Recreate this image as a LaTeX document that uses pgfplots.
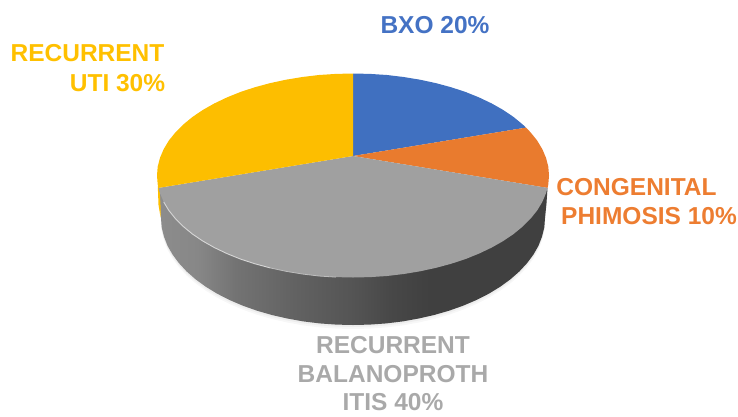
\documentclass[border=0pt]{standalone}
\usepackage{fontspec}
\setmainfont{Liberation Sans}
\usepackage{pgfplots}
\usepackage{pgfplotstable}
\pgfplotsset{compat=1.18}
\definecolor{cblue}{HTML}{4070C0}
\definecolor{corange}{HTML}{E97B2E}
\definecolor{cgray}{HTML}{A0A0A0}
\definecolor{cyellow}{HTML}{FDBE00}
\definecolor{tblue}{HTML}{4472C4}
\definecolor{torange}{HTML}{ED7D31}
\definecolor{tgray}{HTML}{A9A9A9}
\definecolor{tyellow}{HTML}{FFC000}
\pgfdeclarehorizontalshading{wallshade}{100bp}{
  color(0bp)=(black!45);
  color(25bp)=(black!45);
  color(30bp)=(black!47);
  color(35bp)=(black!55);
  color(43bp)=(black!62);
  color(50bp)=(black!67);
  color(55bp)=(black!72);
  color(60bp)=(black!75);
  color(75bp)=(black!75);
  color(100bp)=(black!75)}
\pgfplotstableread{
x y
353 156
353 73.5
370.1 73.9
387 75
403.7 77
420 79.7
435.8 83.1
451 87.2
465.4 91.9
479 97.4
491.6 103.4
503.1 109.9
513.6 117
522.7 124.5
526 127.6
}\tblueslice
\pgfplotstableread{
x y
353 156
526 127.6
530.6 132.4
537.2 140.6
542.3 149.1
546 157.8
548.3 166.6
549 175.5
548.3 184.4
547.5 187.9
}\torangeslice
\pgfplotstableread{
x y
353 156
547.5 187.9
546 193.2
542.3 201.9
537.2 210.4
530.6 218.6
522.7 226.5
513.6 234
503.1 241.1
491.6 247.6
479 253.6
465.4 259.1
451 263.8
435.8 267.9
420 271.3
403.7 274
387 276
370.1 277.1
353 277.5
335.9 277.1
319 276
302.3 274
286 271.3
270.2 267.9
255 263.8
240.6 259.1
227 253.6
214.4 247.6
202.9 241.1
192.4 234
183.3 226.5
175.4 218.6
168.8 210.4
163.7 201.9
160 193.2
158.5 187.9
}\tgrayslice
\pgfplotstableread{
x y
353 156
158.5 187.9
157.7 184.4
157 175.5
157.7 166.6
160 157.8
163.7 149.1
168.8 140.6
175.4 132.4
183.3 124.5
192.4 117
202.9 109.9
214.4 103.4
227 97.4
240.6 91.9
255 87.2
270.2 83.1
286 79.7
302.3 77
319 75
335.9 73.9
353 73.5
}\tyellowslice
\pgfplotstableread{
x y
158.5 187.9
159.5 203
161 218
161.7 227.3
164 236.6
167.5 245.7
172.6 254.6
179 263.2
186.7 271.5
195.7 279.4
205.9 286.8
217.2 293.7
229.6 300
242.9 305.7
257 310.7
271.9 315
287.3 318.5
303.3 321.4
319.7 323.4
336.3 324.6
353 325
369.7 324.6
386.3 323.4
402.7 321.4
418.7 318.5
434.1 315
449 310.7
463.1 305.7
476.4 300
488.8 293.7
500.1 286.8
510.3 279.4
519.3 271.5
527 263.2
533.4 254.6
538.5 245.7
542 236.6
544.3 227.3
545 218
546.5 203
547.5 187.9
}\twall
\pgfplotstableread{
x y
163.7 201.9
168.8 210.4
175.4 218.6
183.3 226.5
192.4 234
202.9 241.1
214.4 247.6
227 253.6
240.6 259.1
255 263.8
270.2 267.9
}\trim
\pgfplotstableread{
x y
270.2 267.9
286 271.3
302.3 274
319 276
335.9 277.1
}\trimb
\pgfplotstableread{
x y
157.8 186
158.5 205
160.5 217
160.5 205
159.5 188
}\tsliver
\begin{document}
\begin{tikzpicture}
\begin{axis}[
  scale only axis, width=738pt, height=416pt,
  xmin=0, xmax=738, ymin=0, ymax=416, y dir=reverse,
  hide axis, clip=false,
  every axis plot/.append style={forget plot}
]
\addplot[fill=black!3, draw=none] table[x=x, y expr=\thisrow{y}+4] {\twall} -- cycle;
\addplot[fill=black!7, draw=none] table[x=x, y expr=\thisrow{y}+2] {\twall} -- cycle;
\addplot[shading=wallshade, draw=none] table[x=x, y=y] {\twall} -- cycle;
\addplot[fill=cyellow, draw=none] table[x=x, y=y] {\tsliver} -- cycle;
\addplot[fill=cblue, draw=none] table[x=x, y=y] {\tblueslice} -- cycle;
\addplot[fill=corange, draw=none] table[x=x, y=y] {\torangeslice} -- cycle;
\addplot[fill=cgray, draw=none] table[x=x, y=y] {\tgrayslice} -- cycle;
\addplot[fill=cyellow, draw=none] table[x=x, y=y] {\tyellowslice} -- cycle;
\addplot[draw=black!16, line width=0.9pt] table[x=x, y=y] {\trim};
\addplot[draw=black!26, line width=0.8pt] table[x=x, y=y] {\trimb};
\path (axis cs:0,0) rectangle (axis cs:738,416);
\tikzset{lab/.style={font=\fontsize{24.5}{24.5}\selectfont\bfseries, inner sep=0pt, anchor=center}}
\node[lab, text=tblue] at (axis cs:435,25) {BXO 20\%};
\node[lab, text=tyellow] at (axis cs:87.5,53) {RECURRENT};
\node[lab, text=tyellow] at (axis cs:117.5,83) {UTI 30\%};
\node[lab, text=torange] at (axis cs:636.5,187) {CONGENITAL};
\node[lab, text=torange] at (axis cs:649,216) {PHIMOSIS 10\%};
\node[lab, text=tgray] at (axis cs:393,345) {RECURRENT};
\node[lab, text=tgray] at (axis cs:393,374) {BALANOPROTH};
\node[lab, text=tgray] at (axis cs:393,402) {ITIS 40\%};
\end{axis}
\end{tikzpicture}
\end{document}
